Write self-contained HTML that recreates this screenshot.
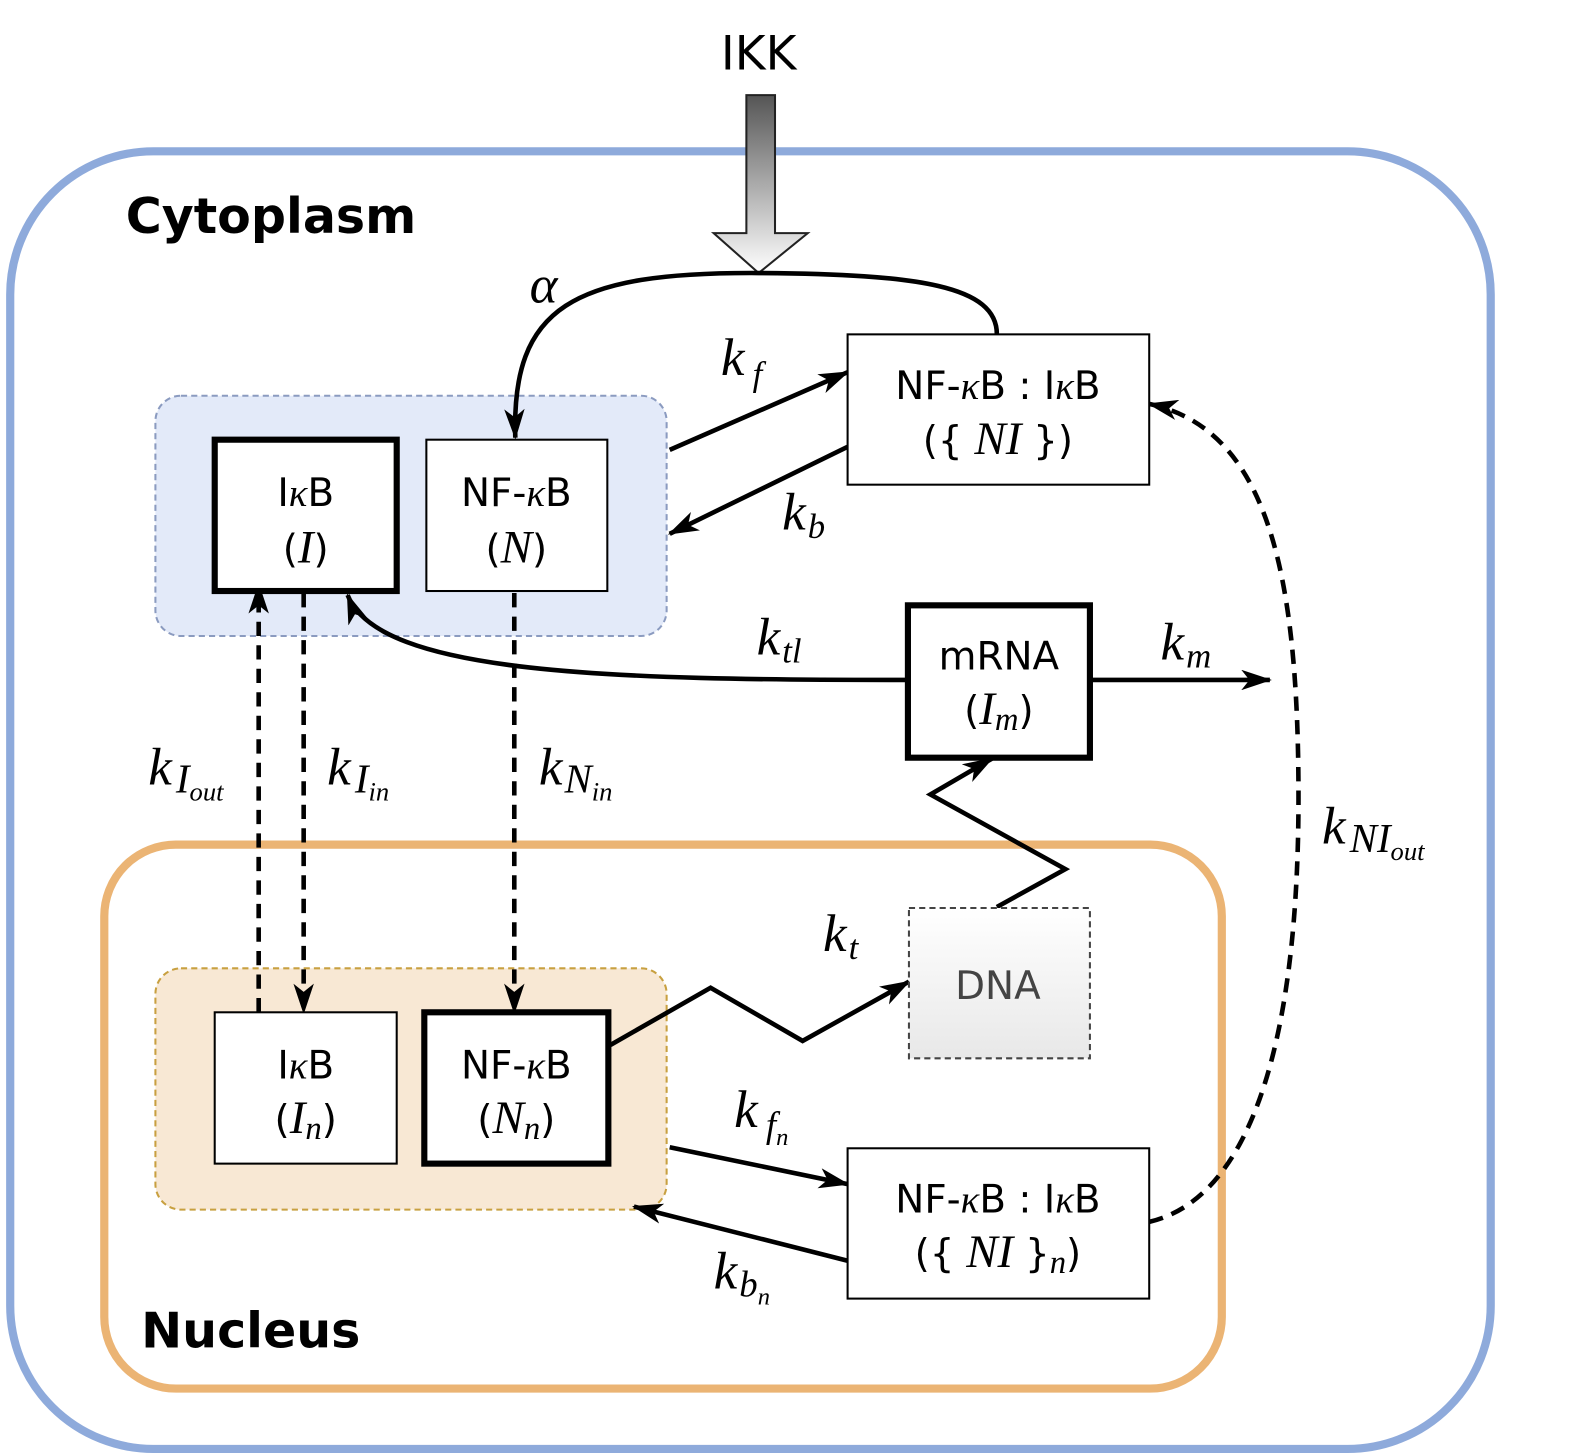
<!DOCTYPE html>
<html><head><meta charset="utf-8"><style>
html,body{margin:0;padding:0;background:#fff}
svg{display:block}
.m{font-family:"Liberation Serif",serif;font-style:italic;font-size:52px}
.s{font-size:34px}
.b{font-family:"DejaVu Sans","Liberation Sans",sans-serif;font-size:38px;text-anchor:middle}
.bi{font-family:"Liberation Serif",serif;font-style:italic}
</style></head><body>
<svg width="1595" height="1453" viewBox="0 0 1560 1421" preserveAspectRatio="none" xmlns="http://www.w3.org/2000/svg">
<defs>
<linearGradient id="g1" x1="0" y1="0" x2="0" y2="1"><stop offset="0" stop-color="#555"/><stop offset="1" stop-color="#fff"/></linearGradient>
<linearGradient id="g2" x1="0" y1="0" x2="0" y2="1"><stop offset="0" stop-color="#fff"/><stop offset="1" stop-color="#e8e8e8"/></linearGradient>
<marker id="h" viewBox="0 0 30 20" refX="28" refY="10" markerWidth="30" markerHeight="20" orient="auto" markerUnits="userSpaceOnUse"><path d="M0,0 L30,10 L0,20 L8,10z" fill="#000"/></marker>
</defs>
<rect x="10" y="148" width="1448" height="1269" rx="140" fill="none" stroke="#8eaadb" stroke-width="8"/>
<rect x="102" y="826" width="1093" height="532" rx="70" fill="none" stroke="#ebb474" stroke-width="8"/>
<text x="123" y="228" font-family="DejaVu Sans,Liberation Sans,sans-serif" font-weight="bold" font-size="48">Cytoplasm</text>
<text x="138" y="1318" font-family="DejaVu Sans,Liberation Sans,sans-serif" font-weight="bold" font-size="48">Nucleus</text>
<text x="742" y="68" font-family="DejaVu Sans,Liberation Sans,sans-serif" font-size="46" text-anchor="middle">IKK</text>
<path d="M730,93 H758 V228 H790 L742,267 L698,228 H730Z" fill="url(#g1)" stroke="#222" stroke-width="2"/>
<rect x="152" y="387" width="500" height="235" rx="25" fill="#e3eaf9" stroke="#8b9bc0" stroke-width="2" stroke-dasharray="6,4"/>
<rect x="152" y="947" width="500" height="236" rx="25" fill="#f8e8d4" stroke="#c8a040" stroke-width="2" stroke-dasharray="6,4"/>
<g fill="none" stroke="#000" stroke-width="4.5">
<path d="M975,327 C975,280 900,268 742,267 C560,266 500,300 504,428" marker-end="url(#h)"/>
<path d="M655,440 L829,364" marker-end="url(#h)"/>
<path d="M829,437 L655,522" marker-end="url(#h)"/>
<path d="M888,665 C600,665 370,660 340,582" marker-end="url(#h)"/>
<path d="M1068,665 L1242,665" marker-end="url(#h)"/>
<path d="M1124,1195 C1230,1170 1270,1000 1270,780 C1270,560 1240,420 1124,395" stroke-dasharray="14,9" marker-end="url(#h)"/>
<path d="M597,1022 L695,966 L785,1018 L889,960" marker-end="url(#h)"/>
<path d="M975,887 L1042,850 L910,777 L970,742" marker-end="url(#h)"/>
<path d="M655,1122 L829,1158" marker-end="url(#h)"/>
<path d="M829,1233 L620,1180" marker-end="url(#h)"/>
<path d="M253,990 L253,572" stroke-dasharray="14,9" marker-end="url(#h)"/>
<path d="M297,580 L297,990" stroke-dasharray="14,9" marker-end="url(#h)"/>
<path d="M503,580 L503,990" stroke-dasharray="14,9" marker-end="url(#h)"/>
</g>
<rect x="210" y="430" width="178" height="148" fill="#fff" stroke="#000" stroke-width="6"/>
<rect x="417" y="430" width="177" height="148" fill="#fff" stroke="#000" stroke-width="2"/>
<rect x="829" y="327" width="295" height="147" fill="#fff" stroke="#000" stroke-width="2"/>
<rect x="888" y="592" width="178" height="149" fill="#fff" stroke="#000" stroke-width="6"/>
<rect x="210" y="990" width="178" height="148" fill="#fff" stroke="#000" stroke-width="2"/>
<rect x="415" y="990" width="180" height="148" fill="#fff" stroke="#000" stroke-width="6"/>
<rect x="889" y="888" width="177" height="147" fill="url(#g2)" stroke="#444" stroke-width="2" stroke-dasharray="6,4"/>
<rect x="829" y="1123" width="295" height="147" fill="#fff" stroke="#000" stroke-width="2"/>
<g class="b">
<text x="299" y="495">I<tspan class="bi">κ</tspan>B</text><text x="299" y="550">(<tspan class="bi" font-size="46">I</tspan>)</text>
<text x="505" y="495">NF-<tspan class="bi">κ</tspan>B</text><text x="505" y="550">(<tspan class="bi" font-size="46">N</tspan>)</text>
<text x="976" y="390">NF-<tspan class="bi">κ</tspan>B : I<tspan class="bi">κ</tspan>B</text><text x="976" y="444">({<tspan class="bi" font-size="46"> NI </tspan>})</text>
<text x="977" y="655">mRNA</text><text x="977" y="708">(<tspan class="bi" font-size="46">I</tspan><tspan class="bi" font-size="32" dy="6">m</tspan><tspan dy="-6">)</tspan></text>
<text x="299" y="1055">I<tspan class="bi">κ</tspan>B</text><text x="299" y="1108">(<tspan class="bi" font-size="46">I</tspan><tspan class="bi" font-size="32" dy="6">n</tspan><tspan dy="-6">)</tspan></text>
<text x="505" y="1055">NF-<tspan class="bi">κ</tspan>B</text><text x="505" y="1108">(<tspan class="bi" font-size="46">N</tspan><tspan class="bi" font-size="32" dy="6">n</tspan><tspan dy="-6">)</tspan></text>
<text x="976" y="977" fill="#444">DNA</text>
<text x="976" y="1186">NF-<tspan class="bi">κ</tspan>B : I<tspan class="bi">κ</tspan>B</text><text x="976" y="1239">({<tspan class="bi" font-size="46"> NI </tspan>}<tspan class="bi" font-size="32" dy="6">n</tspan><tspan dy="-6">)</tspan></text>
</g>
<g class="m">
<text x="518" y="296">α</text>
<text x="705" y="367">k<tspan class="s" dx="8" dy="10">f</tspan></text>
<text x="765" y="518">k<tspan class="s" dx="2" dy="8">b</tspan></text>
<text x="740" y="640">k<tspan class="s" dx="2" dy="8">tl</tspan></text>
<text x="1135" y="645">k<tspan class="s" dx="2" dy="8">m</tspan></text>
<text x="145" y="767">k<tspan dx="4" dy="8" font-size="40">I</tspan><tspan font-size="26" dy="8">out</tspan></text>
<text x="320" y="767">k<tspan dx="4" dy="8" font-size="40">I</tspan><tspan font-size="26" dy="8">in</tspan></text>
<text x="527" y="767">k<tspan dx="2" dy="8" font-size="40">N</tspan><tspan font-size="26" dy="8">in</tspan></text>
<text x="1293" y="825">k<tspan dx="4" dy="8" font-size="40">NI</tspan><tspan font-size="26" dy="8">out</tspan></text>
<text x="805" y="930">k<tspan class="s" dx="2" dy="8">t</tspan></text>
<text x="718" y="1102">k<tspan dx="8" dy="10" font-size="36">f</tspan><tspan font-size="24" dy="8">n</tspan></text>
<text x="698" y="1260">k<tspan dx="2" dy="8" font-size="36">b</tspan><tspan font-size="24" dy="8">n</tspan></text>
</g>
</svg>
</body></html>
